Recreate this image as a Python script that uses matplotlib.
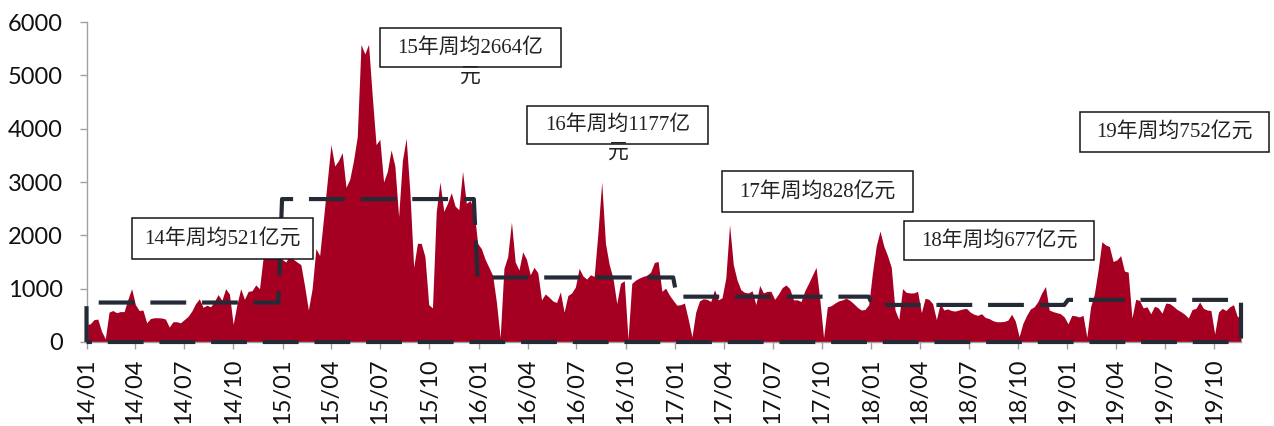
import numpy as np
import pandas as pd
import matplotlib
matplotlib.use('Agg')
import matplotlib.pyplot as plt
from matplotlib.patches import Rectangle

# ---------------- data ----------------
vals_2014 = [330, 340, 420, 430, 200, 60, 560, 590, 550, 570,
             570, 800, 1000, 700, 590, 600, 360, 440, 455, 455,
             450, 430, 280, 380, 380, 360, 420, 480, 580, 720,
             810, 650, 690, 660, 760, 890, 780, 1000, 900, 330,
             700, 1000, 800, 950, 960, 1070, 1000, 1600, 1700, 1650,
             1700, 1750]
vals_2015 = [1550, 1500, 1620, 1550, 1500, 1450, 1050, 600, 1000, 1750,
             1620, 2300, 3000, 3700, 3300, 3400, 3550, 2900, 3050, 3400,
             3850, 5580, 5400, 5580, 4600, 3700, 3800, 3000, 3200, 3600,
             3300, 2350, 3400, 3820, 2800, 1400, 1850, 1850, 1600, 700,
             640, 2440, 3000, 2450, 2600, 2800, 2550, 2480, 3200, 2600,
             2650, 2500]
vals_2016 = [1850, 1750, 1550, 1400, 1250, 750, 80, 1380, 1600, 2250,
             1500, 1350, 1690, 1550, 1260, 1400, 1300, 790, 900, 840,
             770, 740, 940, 560, 870, 920, 1030, 1380, 1240, 1180,
             1260, 1230, 2050, 3000, 1850, 1450, 1200, 720, 1100, 1150,
             50, 1100, 1160, 1200, 1230, 1250, 1310, 1490, 1510, 950,
             1010, 880, 780]
vals_2017 = [690, 700, 730, 430, 95, 560, 770, 810, 800, 760,
             980, 790, 830, 1200, 2200, 1450, 1160, 980, 930, 920,
             960, 700, 1060, 920, 950, 950, 800, 900, 1020, 1070,
             1000, 790, 790, 760, 960, 1100, 1250, 1400, 800, 80,
             660, 680, 730, 770, 790, 820, 780, 720, 650, 600,
             610, 700]
vals_2018 = [1300, 1800, 2080, 1800, 1620, 1400, 600, 420, 1000, 930,
             920, 920, 950, 550, 820, 800, 720, 420, 720, 600,
             620, 590, 580, 600, 620, 630, 560, 520, 500, 530,
             460, 440, 400, 380, 380, 385, 410, 520, 390, 100,
             350, 500, 620, 660, 760, 920, 1040, 600, 570, 550,
             530, 470]
vals_2019 = [340, 500, 490, 470, 500, 90, 660, 900, 1350, 1880,
             1820, 1790, 1510, 1540, 1620, 1330, 1310, 450, 800, 780,
             640, 660, 530, 670, 640, 540, 730, 720, 670, 610,
             570, 520, 450, 610, 630, 750, 630, 600, 590, 150,
             560, 630, 590, 660, 700, 480, 455]

weekly_values = vals_2014 + vals_2015 + vals_2016 + vals_2017 + vals_2018 + vals_2019

# yearly average line as drawn (weekly level per year) and weeks per year
year_avg_line = [740, 2680, 1210, 850, 695, 790]
year_weeks = [52, 52, 53, 52, 52, 47]

box_texts = ['14年周均521亿元', '15年周均2664亿', '16年周均1177亿',
             '17年周均828亿元', '18年周均677亿元', '19年周均752亿元']
overflow_texts = ['', '元', '元', '', '', '']

tick_dates = pd.date_range('2014-01-01', '2019-10-01', freq='3MS')
tick_labels = [d.strftime('%y/%m') for d in tick_dates]
ytick_values = [0, 1000, 2000, 3000, 4000, 5000, 6000]

# ---------------- figure ----------------
W, H = 1274, 426
plt.rcParams['font.family'] = ['Lato', 'DejaVu Sans']
fig = plt.figure(figsize=(W / 100, H / 100), dpi=100)
ax = fig.add_axes([86.5 / W, (H - 342) / H, (1241 - 86.5) / W, (342 - 22) / H])

dates = pd.date_range('2014-01-01', periods=len(weekly_values), freq='7D')
xnum = matplotlib.dates.date2num(dates)

ax.fill_between(xnum, weekly_values, 0, color='#A50021', lw=0, zorder=2)

avg_weekly = np.repeat(year_avg_line, year_weeks)
xs = np.concatenate([[xnum[0]], xnum, [xnum[-1], xnum[0]]])
ys = np.concatenate([[0], avg_weekly, [0, 0]])
ax.plot(xs, ys, color='#252B36', lw=3, dashes=(8.6, 3.8),
        dash_capstyle='butt', solid_joinstyle='miter', zorder=3, clip_on=False)

ax.set_xlim(xnum[0], xnum[-1])
ax.set_ylim(0, 6000)
ax.set_yticks(ytick_values)
ax.set_yticklabels([str(v) for v in ytick_values])
ax.set_xticks(matplotlib.dates.date2num(tick_dates))
ax.set_xticklabels(tick_labels, rotation=90)

for s in ['top', 'right']:
    ax.spines[s].set_visible(False)
for s in ['left', 'bottom']:
    ax.spines[s].set_color('#A0A0A0')
    ax.spines[s].set_linewidth(1.0)

ax.tick_params(axis='x', length=5, width=1, color='#A0A0A0', labelsize=17,
               pad=7, labelcolor='#111111')
ax.tick_params(axis='y', length=5, width=1, color='#A0A0A0', labelsize=17,
               pad=12, labelcolor='#111111')

# ---------------- annotation boxes (pixel layout) ----------------
boxes_px = [(132, 218, 313, 259), (380, 28, 561, 67), (527, 106, 708, 144),
            (722, 171, 913, 212), (904, 221, 1094, 260), (1080, 112, 1269, 152)]
overflow_px = [None, (470, 77), (618, 153), None, None, None]
ann_family = ['Liberation Serif', 'Noto Sans CJK SC']

for (x0, y0, x1, y1), txt, ov, ovp in zip(boxes_px, box_texts, overflow_texts, overflow_px):
    rect = Rectangle((x0 / W, 1 - y1 / H), (x1 - x0) / W, (y1 - y0) / H,
                     transform=fig.transFigure, facecolor='white',
                     edgecolor='#151515', lw=1.1, zorder=5)
    fig.add_artist(rect)
    fig.text((x0 + x1) / 2 / W, 1 - (y0 + y1) / 2 / H, txt, ha='center', va='center',
             fontsize=15, family=ann_family, color='#222222', zorder=6)
    if ov:
        fig.text(ovp[0] / W, 1 - ovp[1] / H, ov, ha='center', va='center',
                 fontsize=15, family=ann_family, color='#222222', zorder=6)

fig.savefig('out.png', dpi=100)
